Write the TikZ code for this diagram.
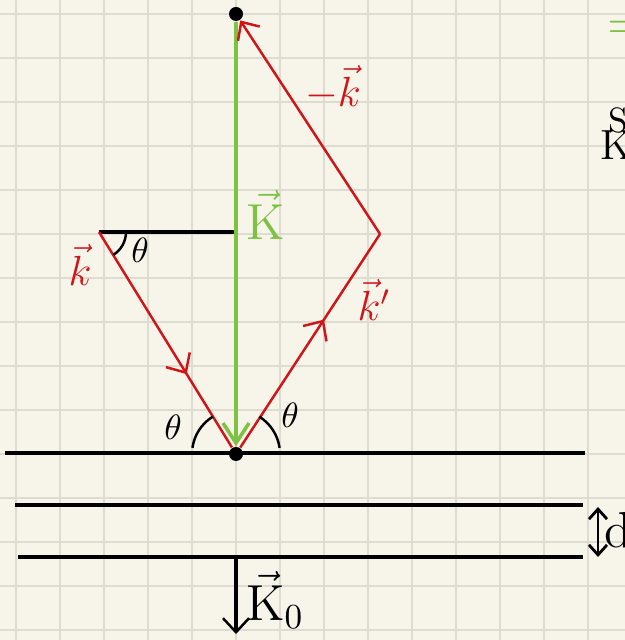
\documentclass[tikz,border=0pt]{standalone}
\usetikzlibrary{arrows.meta,calc,decorations.markings}
\definecolor{paper}{RGB}{247,245,233}
\definecolor{gridgray}{RGB}{222,220,208}
\definecolor{penred}{RGB}{208,20,24}
\definecolor{pengreen}{RGB}{125,194,66}
\tikzset{
  barb/.tip={Straight Barb[length=1.4mm,width=2.6mm,line width=0.7pt]},
  smallbarb/.tip={Straight Barb[length=1mm,width=1.8mm]}
}
\begin{document}
\begin{tikzpicture}[
  x=0.01cm, y=0.01cm,
  gridline/.style={gridgray, line width=0.5pt},
  surface/.style={black, line width=0.9pt},
  wave/.style={penred, line width=0.7pt},
  midarrow/.style={postaction={decorate}, decoration={markings, mark=at position #1 with {\arrow{Straight Barb[length=1.5mm,width=2.8mm,line width=0.7pt]}}}},
  dot/.style={circle, fill=black, inner sep=0pt, minimum size=1.4mm},
  redlbl/.style={text=penred, font=\large},
  anglbl/.style={font=\normalsize}
]
\useasboundingbox (0,0) rectangle (625,640);
\fill[paper] (0,0) rectangle (625,640);
% grid paper
\foreach \i in {0,...,13} \draw[gridline] (16+44*\i,0) -- (16+44*\i,640);
\foreach \j in {0,...,14} \draw[gridline] (0,626-44*\j) -- (625,626-44*\j);

% points of the construction
\node[dot] (top) at (236,626) {};
\node[dot] (orig) at (236,186) {};
\coordinate (A) at (99,408);
\coordinate (B) at (380,406);
\coordinate (H) at (236,408);

% crystal planes
\coordinate (s1l) at (5,187);   \coordinate (s1r) at (585,187);
\coordinate (s2l) at (15,135);  \coordinate (s2r) at (583,135);
\coordinate (s3l) at (18,83);   \coordinate (s3r) at (583,83);
\draw[surface] (s1l) -- (s1r);
\draw[surface] (s2l) -- (s2r);
\draw[surface] (s3l) -- (s3r);
\coordinate (dtop) at (598,133);
\coordinate (dbot) at (598,83);
\draw[line width=0.8pt, smallbarb-smallbarb] (dtop) -- (dbot);
\node[font=\Large] (dlbl) at (618,110) {d};
\coordinate (kin) at (236,81);
\coordinate (kout) at (236,6);
\draw[surface, -barb] (kin) -- (kout);
\node[font=\Large] (K0) at (275,40) {$\vec{\mathrm{K}}_0$};

% wave vectors
\draw[surface] (A) -- (H);
\draw[pengreen, line width=0.9pt, -{Straight Barb[length=2mm,width=2.6mm,line width=1pt]}] (top) -- (orig);
\draw[wave, midarrow=0.66] (A) -- (orig);
\draw[wave, midarrow=0.6] (orig) -- (B);
\draw[wave, -barb] (B) -- (top);

% angles
\draw[line width=0.7pt] (A) ++(27,0) arc[start angle=0, end angle=-58, radius=27];
\draw[line width=0.7pt] (orig.center) ++(172:44) arc[start angle=172, end angle=122, radius=44];
\draw[line width=0.7pt] (orig.center) ++(8:44) arc[start angle=8, end angle=58, radius=44];
\node[anglbl] (thA) at (140,390) {$\theta$};
\node[anglbl] (thL) at (173,213) {$\theta$};
\node[anglbl] (thR) at (290,225) {$\theta$};

% labels
\node[redlbl] (klbl) at (80,375) {$\vec{k}$};
\node[redlbl] (kplbl) at (374,340) {$\vec{k}'$};
\node[redlbl] (mklbl) at (333,552) {$-\vec{k}$};
\node[text=pengreen, font=\Large] (Klbl) at (266,425) {$\vec{\mathrm{K}}$};

% cut-off notes at the right edge
\node[text=pengreen, font=\Large] (eq) at (627,610) {$=$};
\node[font=\normalsize] (S) at (618,519) {S};
\node[font=\large] (Kr) at (617,495) {K};
\end{tikzpicture}
\end{document}
